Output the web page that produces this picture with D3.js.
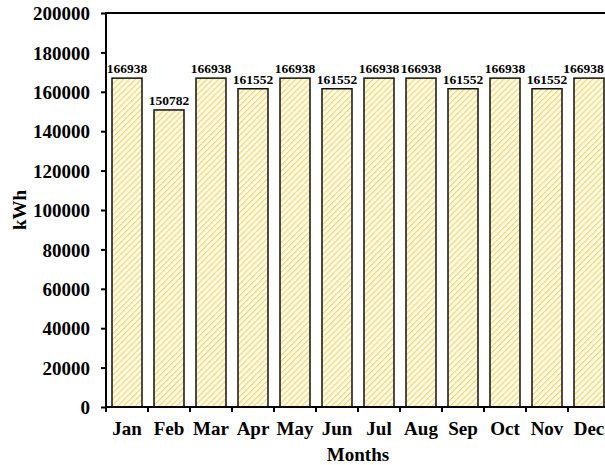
<!DOCTYPE html>
<html>
<head>
<meta charset="utf-8">
<script src="https://cdn.jsdelivr.net/npm/d3@7"></script>
<style>
  body { margin: 0; background: #fff; }
  text { font-family: "Liberation Serif", "Times New Roman", serif; font-weight: bold; fill: #000; }
</style>
</head>
<body>
<svg id="chart" width="605" height="465"></svg>
<script>
// monthly energy output
const months = ["Jan", "Feb", "Mar", "Apr", "May", "Jun", "Jul", "Aug", "Sep", "Oct", "Nov", "Dec"];
const energy = [166938, 150782, 166938, 161552, 166938, 161552, 166938, 166938, 161552, 166938, 161552, 166938];
const yTicks = [0, 20000, 40000, 60000, 80000, 100000, 120000, 140000, 160000, 180000, 200000];

const W = 605;
const svg = d3.select("#chart");
const plotLeft = 106, plotTop = 13, plotBottom = 407, bandW = 42;

// hatch pattern
const defs = svg.append("defs");
const pat = defs.append("pattern")
  .attr("id", "hatch")
  .attr("patternUnits", "userSpaceOnUse")
  .attr("width", 4.2).attr("height", 4.2)
  .attr("patternTransform", "rotate(45)");
pat.append("rect").attr("width", 4.2).attr("height", 4.2).attr("fill", "#fffbea");
pat.append("line")
  .attr("x1", 0).attr("y1", 0).attr("x2", 0).attr("y2", 4.2)
  .attr("stroke", "#f5d76a").attr("stroke-width", 2.4);

const x = d3.scaleBand()
  .domain(months)
  .range([plotLeft, plotLeft + bandW * months.length])
  .paddingInner(0.286)
  .paddingOuter(0.143);

const y = d3.scaleLinear()
  .domain([0, 200000])
  .range([plotBottom, plotTop]);

// bars
svg.append("g").selectAll("rect")
  .data(months)
  .join("rect")
  .attr("x", d => x(d))
  .attr("y", (d, i) => y(energy[i]))
  .attr("width", x.bandwidth())
  .attr("height", (d, i) => plotBottom - y(energy[i]))
  .attr("fill", "url(#hatch)")
  .attr("stroke", "#111")
  .attr("stroke-width", 1.5);

// value labels (keep last one inside the window)
svg.append("g").selectAll("text")
  .data(months)
  .join("text")
  .attr("x", d => x(d) + x.bandwidth() / 2)
  .attr("y", (d, i) => y(energy[i]) - 5)
  .attr("text-anchor", "middle")
  .style("font-size", "13.5px")
  .text((d, i) => energy[i])
  .each(function () {
    const b = this.getBBox();
    if (b.x + b.width > W - 1) this.setAttribute("x", +this.getAttribute("x") - (b.x + b.width - W + 1));
  });

// y axis
const yAxis = svg.append("g")
  .attr("transform", `translate(${plotLeft},0)`)
  .call(d3.axisLeft(y).tickValues(yTicks).tickSize(5).tickPadding(11).tickFormat(d3.format("d")));
yAxis.select(".domain").attr("stroke-width", 2).attr("d", `M0,${plotTop}V${plotBottom}`);
yAxis.selectAll(".tick line").attr("stroke-width", 2);
yAxis.selectAll(".tick text").style("font-size", "19px").attr("dy", "0.35em");

// x axis, ticks at band edges
const edges = months.map(m => x(m) - x.step() * x.paddingInner() / 2);
const xg = svg.append("g");
xg.append("line")
  .attr("x1", plotLeft - 1).attr("x2", W)
  .attr("y1", plotBottom).attr("y2", plotBottom)
  .attr("stroke", "#000").attr("stroke-width", 2);
xg.selectAll(".tk")
  .data(edges)
  .join("line")
  .attr("class", "tk")
  .attr("x1", d => d).attr("x2", d => d)
  .attr("y1", plotBottom).attr("y2", plotBottom + 5)
  .attr("stroke", "#000").attr("stroke-width", 2);
xg.selectAll("text")
  .data(months)
  .join("text")
  .attr("x", d => x(d) + x.bandwidth() / 2)
  .attr("y", 435)
  .attr("text-anchor", "middle")
  .style("font-size", "19px")
  .text(d => d);

// top frame line
svg.append("line")
  .attr("x1", plotLeft - 1).attr("x2", W)
  .attr("y1", plotTop).attr("y2", plotTop)
  .attr("stroke", "#000").attr("stroke-width", 2);

// axis titles
svg.append("text")
  .attr("x", 358).attr("y", 461)
  .attr("text-anchor", "middle")
  .style("font-size", "19px")
  .text("Months");

svg.append("text")
  .attr("transform", "translate(26,210) rotate(-90)")
  .attr("text-anchor", "middle")
  .style("font-size", "19px")
  .text("kWh");
</script>
</body>
</html>
